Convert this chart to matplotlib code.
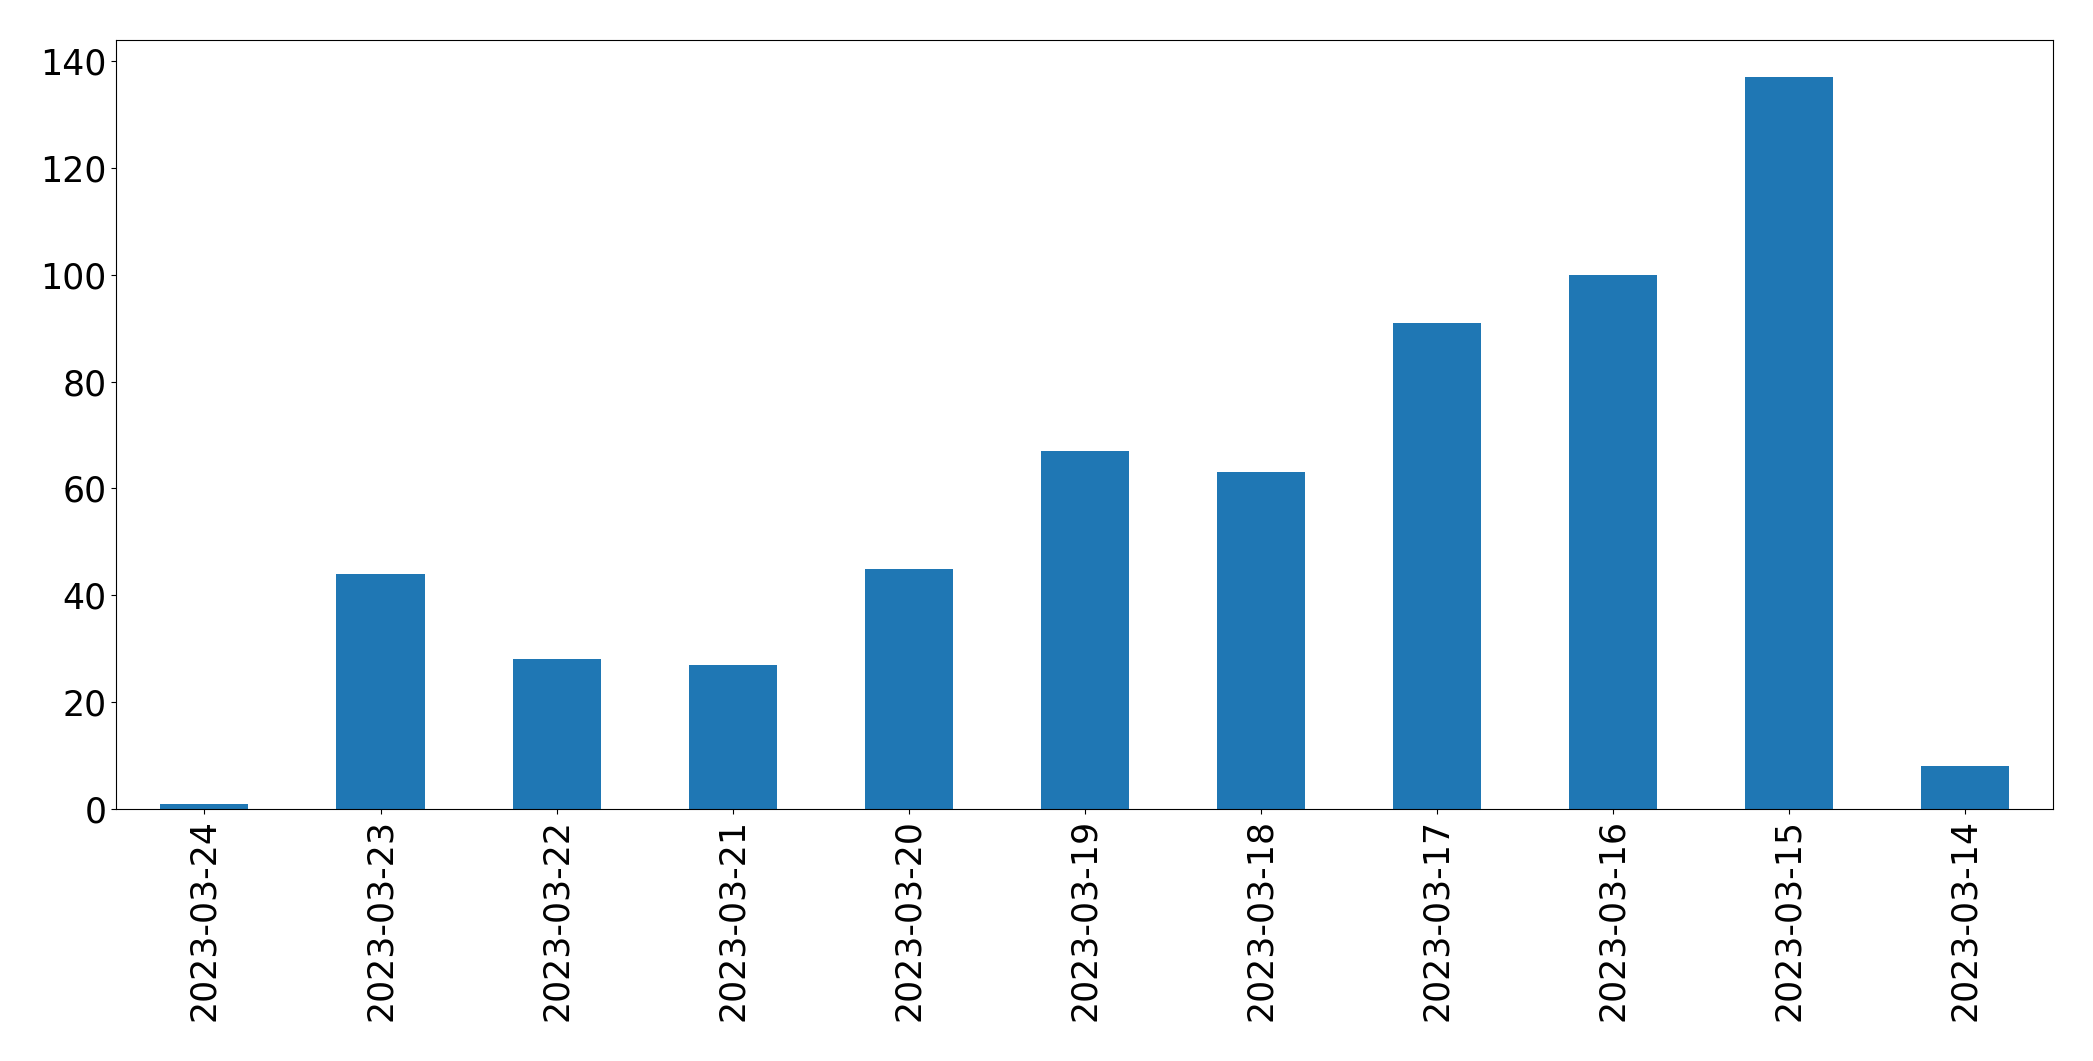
import numpy as np
import matplotlib
matplotlib.use('Agg')
import matplotlib.pyplot as plt

# daily counts, newest first (as in the original pandas plot)
dates = ['2023-03-24', '2023-03-23', '2023-03-22', '2023-03-21', '2023-03-20',
         '2023-03-19', '2023-03-18', '2023-03-17', '2023-03-16', '2023-03-15',
         '2023-03-14']
counts = [1, 44, 28, 27, 45, 67, 63, 91, 100, 137, 8]

fig = plt.figure(figsize=(20.93, 10.61), dpi=100)
ax = fig.add_axes([0.0556, 0.2375, 0.9255, 0.7245])
x = np.arange(len(dates))
ax.bar(x, counts, width=0.5, color='#1f77b4')
ax.set_xlim(-0.5, len(dates) - 0.5)
ax.set_xticks(x)
ax.set_xticklabels(dates, rotation=90)
ax.tick_params(axis='both', labelsize=25)
fig.savefig('out.png', dpi=100)
